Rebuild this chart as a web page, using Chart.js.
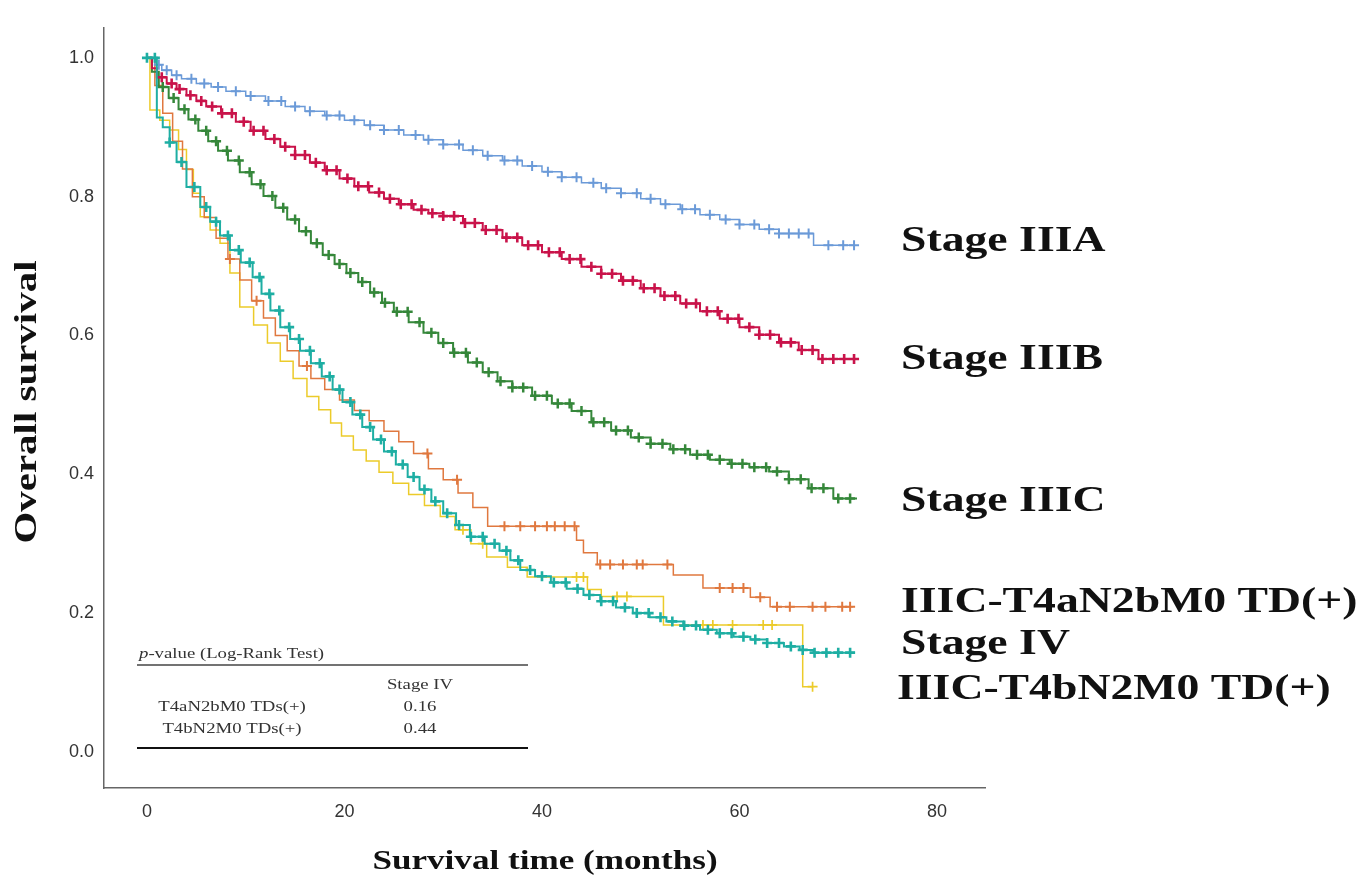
<!DOCTYPE html>
<html>
<head>
<meta charset="utf-8">
<title>Overall survival by stage</title>
<script src="https://cdn.jsdelivr.net/npm/chart.js@4/dist/chart.umd.min.js"></script>
<style>
  html, body { margin: 0; padding: 0; background: #fff; }
  #wrap { width: 1372px; height: 888px; }
</style>
</head>
<body>
<div id="wrap"><canvas id="km" width="1372" height="888"></canvas></div>
<script>
/* ------------------------------
   DATA
   time in months, survival fraction
--------------------------------*/
const xTicks = [0, 20, 40, 60, 80];
const yTicks = [0, 0.2, 0.4, 0.6, 0.8, 1.0];

const seriesNames = ['Stage IIIA', 'Stage IIIB', 'Stage IIIC', 'IIIC-T4aN2bM0 TD(+)', 'Stage IV', 'IIIC-T4bN2M0 TD(+)'];

const iiiaTime = [0, 0.8, 1.5, 2.5, 3.5, 5, 6.5, 8, 10, 12, 14, 16, 18, 20, 22, 24, 26, 28, 30, 32, 34, 36, 38, 40, 42, 44, 46, 48, 50, 52, 54, 56, 58, 60, 62, 64, 67.5, 71.7];
const iiiaSurv = [1.0, 0.99, 0.982, 0.975, 0.97, 0.963, 0.958, 0.952, 0.945, 0.938, 0.93, 0.923, 0.917, 0.91, 0.903, 0.896, 0.889, 0.882, 0.875, 0.867, 0.859, 0.852, 0.844, 0.836, 0.828, 0.82, 0.812, 0.805, 0.797, 0.789, 0.782, 0.774, 0.767, 0.76, 0.753, 0.747, 0.73, 0.73];
const iiiaCens = [1.2, 2, 3, 4.5, 5.8, 7.2, 9, 10.5, 12.3, 13.6, 15, 16.5, 18.2, 19.5, 21, 22.6, 24, 25.5, 27.2, 28.5, 30, 31.6, 33, 34.5, 36.2, 37.5, 39, 40.6, 42, 43.5, 45.2, 46.5, 48, 49.6, 51, 52.5, 54.2, 55.5, 57, 58.6, 60, 61.5, 63, 64, 65, 66, 67, 69, 70.5, 71.6];

const iiibTime = [0, 0.5, 1, 2, 3, 4, 5, 6, 7.5, 9, 10.5, 12, 13.5, 15, 16.5, 18, 19.5, 21, 22.5, 24, 25.5, 27, 28.5, 30, 32, 34, 36, 38, 40, 42, 44, 46, 48, 50, 52, 54, 56, 58, 60, 62, 64, 66, 68, 71.7];
const iiibSurv = [1.0, 0.985, 0.972, 0.963, 0.955, 0.946, 0.938, 0.93, 0.92, 0.908, 0.895, 0.883, 0.872, 0.86, 0.849, 0.838, 0.826, 0.815, 0.806, 0.797, 0.789, 0.781, 0.776, 0.772, 0.762, 0.752, 0.741, 0.73, 0.72, 0.71, 0.699, 0.689, 0.679, 0.668, 0.657, 0.646, 0.635, 0.624, 0.612, 0.601, 0.59, 0.579, 0.566, 0.566];
const iiibCens = [1.5, 2.5, 3.3, 4.4, 5.5, 6.6, 7.6, 8.6, 9.8, 10.8, 11.8, 12.9, 14, 15, 16, 17.1, 18.2, 19.2, 20.3, 21.4, 22.4, 23.5, 24.6, 25.7, 26.8, 27.8, 28.9, 30, 31.1, 32.2, 33.2, 34.3, 35.4, 36.4, 37.5, 38.6, 39.6, 40.7, 41.8, 42.8, 43.9, 45, 46, 47.1, 48.2, 49.2, 50.3, 51.4, 52.4, 53.5, 54.6, 55.6, 56.7, 57.8, 58.8, 59.9, 61, 62, 63.1, 64.2, 65.2, 66.3, 67.4, 68.4, 69.5, 70.6, 71.6];

const iiicTime = [0, 0.5, 1.2, 2.2, 3.2, 4.2, 5.2, 6.2, 7.2, 8.2, 9.4, 10.6, 11.8, 13, 14.2, 15.4, 16.6, 17.8, 19, 20.2, 21.4, 22.6, 23.8, 25, 26.5, 28, 29.5, 31, 32.5, 34, 35.5, 37, 39, 41, 43, 45, 47, 49, 51, 53, 55, 57, 59, 61, 63, 65, 67, 69.5, 71.9];
const iiicSurv = [1.0, 0.98, 0.958, 0.942, 0.926, 0.911, 0.895, 0.88, 0.866, 0.852, 0.835, 0.818, 0.801, 0.784, 0.767, 0.75, 0.733, 0.716, 0.703, 0.69, 0.677, 0.662, 0.647, 0.634, 0.619, 0.604, 0.589, 0.575, 0.561, 0.547, 0.534, 0.525, 0.513, 0.502, 0.491, 0.475, 0.463, 0.453, 0.444, 0.436, 0.428, 0.421, 0.415, 0.41, 0.404, 0.393, 0.38, 0.365, 0.365];
const iiicCens = [1.6, 2.7, 3.8, 4.9, 6, 7, 8.1, 9.3, 10.4, 11.5, 12.7, 13.8, 15, 16.1, 17.2, 18.4, 19.5, 20.6, 21.8, 23, 24.1, 25.3, 26.4, 27.6, 28.8, 30, 31.1, 32.3, 33.4, 34.6, 35.8, 37, 38.1, 39.3, 40.5, 41.6, 42.8, 44, 45.2, 46.3, 47.5, 48.7, 49.8, 51, 52.2, 53.3, 54.5, 55.7, 56.8, 58, 59.2, 60.3, 61.5, 62.7, 63.8, 65, 66.2, 67.3, 68.5, 70, 71.2];

const t4aTime = [0, 0.8, 1.6, 2.6, 3.6, 4.6, 5.8, 7, 8.2, 9.4, 10.6, 11.8, 13, 14.2, 15.4, 16.6, 18, 19.5, 21, 22.5, 24, 25.5, 27, 28.5, 30, 31.5, 33, 34.5, 43.5, 44.2, 45.6, 53.3, 56.3, 61.1, 63.1, 71.5];
const t4aSurv = [1.0, 0.96, 0.92, 0.88, 0.84, 0.8, 0.77, 0.74, 0.71, 0.68, 0.65, 0.625, 0.6, 0.578, 0.556, 0.538, 0.522, 0.507, 0.492, 0.477, 0.462, 0.447, 0.43, 0.408, 0.392, 0.373, 0.352, 0.325, 0.305, 0.287, 0.27, 0.255, 0.236, 0.223, 0.209, 0.209];
const t4aCens = [8.4, 11.1, 16.2, 28.4, 31.4, 36.2, 37.8, 39.3, 40.5, 41.3, 42.3, 43.3, 45.9, 46.9, 48.2, 49.6, 50.2, 52.7, 58, 59.3, 60.4, 62.1, 63.8, 65.1, 67.4, 68.7, 70.4, 71.2];

const ivTime = [0, 1, 1.6, 2.3, 3, 4, 5.4, 6.4, 7.4, 8.4, 9.5, 10.7, 11.6, 12.5, 13.5, 14.5, 15.5, 16.6, 17.7, 18.8, 19.8, 20.8, 21.8, 22.9, 24, 25.2, 26.4, 27.6, 28.8, 30, 31.3, 32.7, 34.2, 35.7, 36.8, 37.8, 39.3, 40.9, 42.5, 44.2, 45.9, 47.5, 49.2, 50.9, 52.6, 54.3, 56, 57.7, 59.4, 61.1, 62.8, 64.5, 66.1, 67.5, 71.7];
const ivSurv = [1.0, 0.914, 0.9, 0.878, 0.85, 0.814, 0.785, 0.764, 0.744, 0.723, 0.705, 0.684, 0.66, 0.636, 0.612, 0.595, 0.578, 0.56, 0.541, 0.522, 0.504, 0.486, 0.468, 0.45, 0.433, 0.414, 0.396, 0.378, 0.361, 0.344, 0.327, 0.31, 0.3, 0.29, 0.276, 0.262, 0.253, 0.244, 0.235, 0.226, 0.217, 0.208, 0.2, 0.194, 0.188, 0.182, 0.176, 0.171, 0.166, 0.162, 0.157, 0.152, 0.147, 0.143, 0.143];
const ivCens = [0, 0.8, 2.3, 3.5, 4.8, 6, 7, 8.2, 9.3, 10.4, 11.4, 12.4, 13.4, 14.4, 15.4, 16.5, 17.5, 18.5, 19.5, 20.6, 21.6, 22.6, 23.7, 24.8, 25.9, 27, 28.1, 29.2, 30.4, 31.6, 32.8, 34, 35.2, 36.4, 37.6, 38.8, 40, 41.2, 42.4, 43.6, 44.8, 46, 47.2, 48.4, 49.6, 50.8, 52, 53.2, 54.4, 55.6, 56.8, 58, 59.2, 60.4, 61.6, 62.8, 64, 65.2, 66.4, 67.6, 68.8, 70, 71.2];

const t4bTime = [0, 0.3, 1.3, 2.3, 3.2, 4, 4.7, 5.4, 6.4, 7.4, 8.4, 9.4, 10.8, 12.2, 13.5, 14.8, 16.2, 17.4, 18.6, 19.7, 20.9, 22.2, 23.5, 24.9, 26.5, 28.1, 29.7, 31.2, 32.8, 34.4, 36.5, 38.5, 44.6, 46, 52.3, 66.4, 67.4];
const t4bSurv = [1.0, 0.925, 0.91, 0.896, 0.868, 0.839, 0.805, 0.771, 0.752, 0.733, 0.69, 0.641, 0.615, 0.589, 0.563, 0.538, 0.512, 0.493, 0.474, 0.455, 0.435, 0.419, 0.403, 0.387, 0.371, 0.355, 0.339, 0.32, 0.3, 0.281, 0.266, 0.252, 0.234, 0.224, 0.183, 0.094, 0.094];
const t4bCens = [32, 34, 43.5, 44.2, 47.6, 48.6, 56.3, 57.3, 59.3, 62.4, 63.3, 67.4];

// p-value table
const pHeader = 'Stage IV';
const pRows = ['T4aN2bM0 TDs(+)', 'T4bN2M0 TDs(+)'];
const pValues = ['0.16', '0.44'];

/* ------------------------------
   STYLES
--------------------------------*/
const seriesStyle = [
  { color: '#6b9ad8', width: 1.5, mark: 2.0, order: 4, labelY: 242, labelX: 901 },
  { color: '#c9134a', width: 2.0, mark: 2.6, order: 2, labelY: 360, labelX: 901 },
  { color: '#35873a', width: 2.0, mark: 2.5, order: 3, labelY: 502, labelX: 901 },
  { color: '#e0783f', width: 1.5, mark: 2.0, order: 5, labelY: 603, labelX: 901 },
  { color: '#1eaea3', width: 2.0, mark: 2.6, order: 1, labelY: 645, labelX: 901 },
  { color: '#eccb2a', width: 1.5, mark: 1.7, order: 6, labelY: 690, labelX: 897 }
];

/* ------------------------------
   HELPERS
--------------------------------*/
function steps(times, surv) {
  return times.map((t, i) => ({ x: t, y: surv[i] }));
}

// survival value in force at time t (step lookup)
function survAt(times, surv, t) {
  let s = surv[0];
  for (let i = 0; i < times.length; i++) {
    if (times[i] <= t) s = surv[i];
  }
  return s;
}

function marks(cens, times, surv) {
  return cens.map(t => ({ x: t, y: survAt(times, surv, t) }));
}

function stretchText(ctx, txt, x, y, font, sx, align, color) {
  ctx.save();
  ctx.font = font;
  ctx.fillStyle = color;
  ctx.textBaseline = 'middle';
  ctx.textAlign = align;
  ctx.translate(x, y);
  ctx.scale(sx, 1);
  ctx.fillText(txt, 0, 0);
  ctx.restore();
}

/* ------------------------------
   DATASETS
--------------------------------*/
const curves = [
  [iiiaTime, iiiaSurv, iiiaCens],
  [iiibTime, iiibSurv, iiibCens],
  [iiicTime, iiicSurv, iiicCens],
  [t4aTime, t4aSurv, t4aCens],
  [ivTime, ivSurv, ivCens],
  [t4bTime, t4bSurv, t4bCens]
];

const datasets = [];
curves.forEach((c, i) => {
  const st = seriesStyle[i];
  datasets.push({
    label: seriesNames[i],
    data: steps(c[0], c[1]),
    borderColor: st.color,
    borderWidth: st.width,
    stepped: 'before',
    pointRadius: 0,
    fill: false,
    order: st.order
  });
  datasets.push({
    label: seriesNames[i] + ' censored',
    data: marks(c[2], c[0], c[1]),
    showLine: false,
    pointStyle: 'cross',
    pointRadius: 5,
    pointBorderWidth: st.mark,
    borderColor: st.color,
    backgroundColor: st.color,
    order: st.order
  });
});

/* ------------------------------
   LABELS, AXIS TITLES, P TABLE
--------------------------------*/
const annotPlugin = {
  id: 'annot',
  afterDraw(chart) {
    const ctx = chart.ctx;
    const serifB = sz => `bold ${sz}px "Liberation Serif", "Times New Roman", serif`;

    // curve labels on the right
    seriesNames.forEach((name, i) => {
      const st = seriesStyle[i];
      stretchText(ctx, name, st.labelX, st.labelY, serifB(36), 1.27, 'left', '#111');
    });

    // x axis title
    stretchText(ctx, 'Survival time (months)', 545, 862, serifB(27), 1.3, 'center', '#111');

    // y axis title
    ctx.save();
    ctx.translate(28, 402);
    ctx.rotate(-Math.PI / 2);
    ctx.font = serifB(31);
    ctx.fillStyle = '#111';
    ctx.textAlign = 'center';
    ctx.textBaseline = 'middle';
    ctx.scale(1.32, 1);
    ctx.fillText('Overall survival', 0, 0);
    ctx.restore();

    // p-value table
    const tx0 = 137, tx1 = 528;
    const reg = '15px "Liberation Serif", "Times New Roman", serif';
    const ital = 'italic 15px "Liberation Serif", "Times New Roman", serif';
    ctx.save();
    ctx.font = ital;
    const pw = ctx.measureText('p').width * 1.25;
    ctx.restore();
    stretchText(ctx, 'p', 139, 654, ital, 1.25, 'left', '#333');
    stretchText(ctx, '-value (Log-Rank Test)', 139 + pw, 654, reg, 1.25, 'left', '#333');

    ctx.save();
    ctx.strokeStyle = '#444';
    ctx.lineWidth = 1.6;
    ctx.beginPath();
    ctx.moveTo(tx0, 665);
    ctx.lineTo(tx1, 665);
    ctx.stroke();
    ctx.strokeStyle = '#111';
    ctx.lineWidth = 2.2;
    ctx.beginPath();
    ctx.moveTo(tx0, 748);
    ctx.lineTo(tx1, 748);
    ctx.stroke();
    ctx.restore();

    stretchText(ctx, pHeader, 420, 685, reg, 1.25, 'center', '#333');
    pRows.forEach((r, i) => {
      stretchText(ctx, r, 232, 707 + i * 22, reg, 1.25, 'center', '#333');
      stretchText(ctx, pValues[i], 420, 707 + i * 22, reg, 1.25, 'center', '#333');
    });
  }
};

/* ------------------------------
   CHART
--------------------------------*/
const tickFont = { family: '"Liberation Sans", Arial, sans-serif', size: 18 };

new Chart(document.getElementById('km').getContext('2d'), {
  type: 'line',
  data: { datasets },
  options: {
    responsive: false,
    animation: false,
    layout: { padding: { top: 28, right: 387, bottom: 0, left: 0 } },
    plugins: {
      legend: { display: false },
      tooltip: { enabled: false }
    },
    scales: {
      x: {
        type: 'linear',
        min: -4.35,
        max: 84.86,
        grid: { display: false, drawTicks: false },
        border: { display: true, color: '#666', width: 1.5 },
        ticks: { font: tickFont, color: '#333', padding: 13 },
        afterBuildTicks: s => { s.ticks = xTicks.map(v => ({ value: v })); },
        afterFit: s => { s.height = 100; }
      },
      y: {
        type: 'linear',
        min: -0.052,
        max: 1.043,
        grid: { display: false, drawTicks: false },
        border: { display: true, color: '#666', width: 1.5 },
        ticks: { font: tickFont, color: '#333', padding: 10, callback: v => v.toFixed(1) },
        afterBuildTicks: s => { s.ticks = yTicks.map(v => ({ value: v })); },
        afterFit: s => { s.width = 104; }
      }
    }
  },
  plugins: [annotPlugin]
});
</script>
</body>
</html>
